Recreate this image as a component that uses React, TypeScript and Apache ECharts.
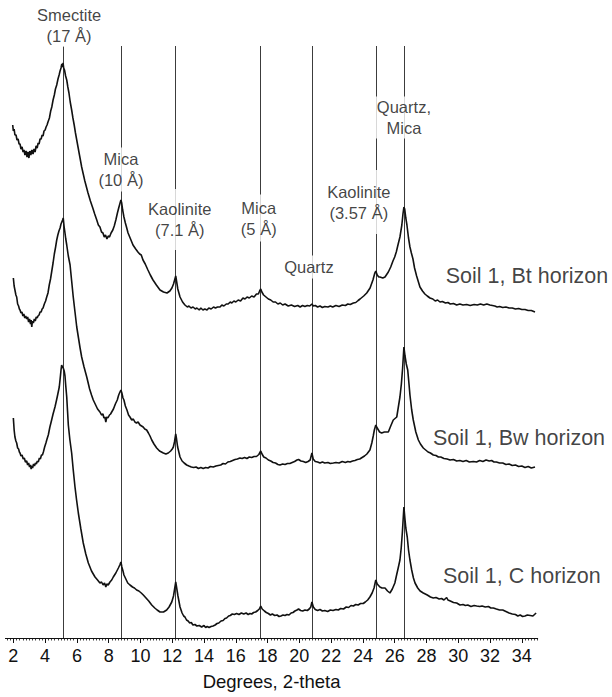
import React, { useEffect, useRef } from "react";
import * as echarts from "echarts";

// 2-theta tick labels on the x axis
const majorTicks = [2, 4, 6, 8, 10, 12, 14, 16, 18, 20, 22, 24, 26, 28, 30, 32, 34];

// Diagnostic reflections (degrees 2-theta) and their names
const peakPositions = [5.13, 8.77, 12.22, 17.57, 20.79, 24.81, 26.58];
const peakLabels = [
  "Smectite\n(17 Å)",
  "Mica\n(10 Å)",
  "Kaolinite\n(7.1 Å)",
  "Mica\n(5 Å)",
  "Quartz",
  "Kaolinite\n(3.57 Å)",
  "Quartz,\nMica",
];

const horizonNames = ["Soil 1, Bt horizon", "Soil 1, Bw horizon", "Soil 1, C horizon"];

// Diffractogram intensities (arbitrary units) as [2-theta, intensity]
const btTrace: [number, number][] = [
  [1.96, 213], [2.0, 207], [2.05, 209], [2.1, 203], [2.17, 203], [2.23, 198], [2.3, 199], [2.36, 194],
  [2.42, 194], [2.48, 189], [2.55, 191], [2.61, 186], [2.67, 188], [2.73, 183], [2.8, 187], [2.86, 181],
  [2.92, 186], [2.98, 180], [3.04, 187], [3.1, 183], [3.17, 188], [3.24, 184], [3.3, 189], [3.37, 186],
  [3.43, 192], [3.5, 190], [3.56, 195], [3.62, 194], [3.68, 199], [3.75, 199], [3.81, 203], [3.87, 202],
  [3.93, 207], [4.0, 208], [4.06, 211], [4.12, 213], [4.18, 216], [4.27, 220], [4.35, 227], [4.42, 231],
  [4.5, 238], [4.58, 243], [4.65, 249], [4.73, 253], [4.81, 259], [4.88, 263], [4.94, 267], [5.0, 270],
  [5.05, 274], [5.09, 271], [5.13, 275], [5.17, 270], [5.22, 268], [5.29, 262], [5.36, 258], [5.43, 251],
  [5.5, 245], [5.58, 236], [5.67, 228], [5.75, 220], [5.83, 213], [5.91, 205], [5.99, 198], [6.07, 191],
  [6.15, 184], [6.22, 178], [6.3, 171], [6.4, 164], [6.5, 157], [6.6, 151], [6.7, 145], [6.85, 137],
  [7.0, 130], [7.12, 124], [7.25, 118], [7.35, 113], [7.45, 111], [7.55, 106], [7.64, 105], [7.72, 101],
  [7.8, 103], [7.89, 99], [7.97, 102], [8.05, 101], [8.15, 105], [8.26, 108], [8.35, 112], [8.45, 118],
  [8.55, 125], [8.63, 130], [8.7, 134], [8.77, 138], [8.82, 135], [8.88, 128], [8.96, 121], [9.05, 115],
  [9.12, 111], [9.22, 105], [9.35, 100], [9.53, 93], [9.7, 89], [9.84, 86], [9.95, 84], [10.05, 83],
  [10.16, 78], [10.3, 74], [10.47, 68], [10.62, 63], [10.79, 58], [11.0, 53], [11.23, 48], [11.45, 46],
  [11.67, 45], [11.85, 47], [11.98, 50], [12.08, 54], [12.15, 58], [12.22, 62], [12.27, 57], [12.35, 49],
  [12.49, 41], [12.65, 36], [12.8, 33], [12.95, 31], [13.05, 32], [13.18, 30], [13.31, 31], [13.45, 29],
  [13.55, 30], [13.7, 28], [13.8, 30], [13.93, 28], [14.05, 29], [14.19, 28], [14.3, 30], [14.45, 29],
  [14.6, 31], [14.72, 30], [14.85, 31], [15.01, 31], [15.12, 33], [15.25, 32], [15.4, 34], [15.52, 34],
  [15.65, 36], [15.75, 35], [15.88, 37], [16.0, 36], [16.15, 38], [16.3, 37], [16.45, 40], [16.58, 39],
  [16.71, 41], [16.85, 40], [17.0, 42], [17.15, 41], [17.3, 44], [17.42, 44], [17.5, 47], [17.57, 49],
  [17.64, 46], [17.75, 43], [17.9, 41], [18.05, 39], [18.2, 38], [18.35, 36], [18.5, 36], [18.65, 34],
  [18.8, 35], [18.95, 33], [19.1, 34], [19.3, 32], [19.5, 33], [19.7, 31.5], [19.9, 32.5], [20.05, 31],
  [20.2, 32.5], [20.35, 31.5], [20.5, 32.5], [20.65, 32], [20.72, 33], [20.79, 34], [20.88, 32], [21.0, 32.5],
  [21.15, 31], [21.3, 32], [21.45, 30.5], [21.6, 31.5], [21.8, 31], [21.95, 32], [22.1, 31], [22.3, 32.5],
  [22.5, 31.5], [22.7, 33], [22.9, 32.5], [23.05, 34], [23.2, 33.5], [23.4, 35], [23.55, 35.5], [23.7, 37.5],
  [23.82, 39], [24.05, 42], [24.24, 45], [24.45, 50], [24.63, 58], [24.75, 65], [24.81, 67], [24.9, 63],
  [25.0, 61], [25.07, 61], [25.25, 60], [25.39, 61], [25.6, 66], [25.75, 71], [25.89, 77], [26.0, 81],
  [26.1, 86], [26.22, 94], [26.33, 101], [26.45, 113], [26.52, 124], [26.58, 131], [26.63, 129], [26.7, 120],
  [26.77, 113], [26.87, 100], [26.96, 91], [27.05, 85], [27.15, 79], [27.25, 70], [27.38, 62], [27.59, 51],
  [27.75, 47], [27.9, 44], [28.05, 42], [28.22, 40], [28.4, 39], [28.55, 37], [28.7, 38], [28.85, 36],
  [29.0, 36.5], [29.2, 35], [29.35, 35.5], [29.5, 34], [29.7, 34.5], [29.9, 33], [30.1, 34], [30.3, 33],
  [30.53, 33.5], [30.75, 32.5], [31.0, 33.5], [31.2, 33], [31.4, 34], [31.6, 33], [31.8, 34], [31.99, 33],
  [32.15, 32.5], [32.3, 32], [32.45, 31], [32.6, 31.5], [32.8, 30.5], [33.0, 31], [33.2, 30], [33.4, 30],
  [33.6, 29], [33.8, 29.5], [34.0, 28.5], [34.2, 28.5], [34.4, 27.5], [34.6, 27.5], [34.83, 26],
];

const bwTrace: [number, number][] = [
  [2.0, 210], [2.05, 202], [2.1, 198], [2.16, 193], [2.21, 191], [2.27, 184], [2.33, 182], [2.38, 179],
  [2.42, 178], [2.48, 175], [2.54, 176], [2.6, 172], [2.66, 174], [2.72, 170], [2.78, 172], [2.84, 169],
  [2.9, 171], [2.96, 166], [3.02, 169], [3.08, 164], [3.12, 168], [3.16, 161], [3.2, 167], [3.26, 165],
  [3.32, 169], [3.38, 167], [3.44, 171], [3.5, 170], [3.55, 172], [3.62, 173], [3.68, 176], [3.75, 176],
  [3.81, 179], [3.87, 180], [3.95, 184], [4.03, 187], [4.1, 191], [4.18, 195], [4.26, 203], [4.34, 209],
  [4.42, 217], [4.5, 225], [4.58, 234], [4.66, 241], [4.73, 248], [4.8, 253], [4.87, 257], [4.94, 260],
  [5.0, 264], [5.05, 266], [5.1, 268], [5.14, 270], [5.19, 262], [5.25, 255], [5.3, 249], [5.36, 243],
  [5.46, 232], [5.57, 223], [5.67, 207], [5.77, 191], [5.88, 176], [5.99, 161], [6.1, 150], [6.2, 140],
  [6.3, 131], [6.45, 121], [6.62, 111], [6.8, 99], [6.92, 93], [7.03, 88], [7.15, 84], [7.3, 79],
  [7.45, 76], [7.55, 73], [7.64, 74], [7.7, 70], [7.76, 71], [7.82, 66], [7.88, 71], [7.95, 70],
  [8.05, 73], [8.12, 74], [8.19, 76], [8.3, 79], [8.42, 84], [8.54, 88], [8.63, 93], [8.71, 96],
  [8.77, 98], [8.83, 95], [8.9, 90], [8.96, 88], [9.05, 82], [9.15, 78], [9.25, 73], [9.34, 71],
  [9.45, 68], [9.55, 69], [9.65, 66], [9.75, 65], [9.85, 66], [9.97, 63], [10.07, 62], [10.17, 61],
  [10.27, 59], [10.39, 58], [10.5, 55], [10.6, 52], [10.71, 48], [10.85, 44], [11.02, 40], [11.2, 37],
  [11.44, 35], [11.6, 34], [11.75, 35], [11.9, 37], [12.0, 39], [12.07, 41], [12.14, 46], [12.22, 54],
  [12.27, 49], [12.34, 41], [12.49, 31], [12.62, 27], [12.75, 25], [12.91, 23], [13.05, 22], [13.2, 21],
  [13.35, 20.5], [13.5, 21], [13.65, 19.5], [13.8, 20.5], [13.95, 19.5], [14.1, 20.5], [14.25, 20], [14.4, 21.5],
  [14.58, 21], [14.75, 22], [14.9, 22.5], [15.05, 23], [15.2, 24.5], [15.35, 24], [15.5, 26], [15.65, 26.5],
  [15.8, 27.5], [15.95, 28.5], [16.1, 29], [16.26, 30], [16.4, 29.5], [16.55, 30.5], [16.7, 29.5], [16.85, 31],
  [17.0, 30.5], [17.15, 31.5], [17.3, 31.5], [17.45, 33.5], [17.57, 37], [17.65, 34], [17.76, 31], [17.9, 30],
  [18.05, 28], [18.2, 27], [18.35, 25.5], [18.5, 25], [18.65, 23.5], [18.78, 23], [18.95, 24], [19.1, 23.5],
  [19.25, 24.5], [19.4, 24.5], [19.55, 25.5], [19.7, 26.5], [19.85, 28], [19.95, 28.5], [20.1, 27], [20.25, 26.5],
  [20.4, 25.5], [20.55, 26.5], [20.68, 28], [20.79, 35], [20.87, 29], [21.0, 26.5], [21.15, 26], [21.3, 25],
  [21.45, 26], [21.6, 25], [21.8, 25.5], [21.95, 24.5], [22.14, 25], [22.3, 25.5], [22.5, 25], [22.7, 26.5],
  [22.9, 25.5], [23.05, 26.5], [23.19, 26], [23.35, 27], [23.5, 27.5], [23.65, 28.5], [23.8, 29], [23.95, 30.5],
  [24.1, 32], [24.25, 34], [24.44, 38], [24.56, 45], [24.65, 52], [24.72, 58], [24.81, 63], [24.9, 60],
  [25.05, 56], [25.18, 55], [25.35, 56], [25.6, 56], [25.75, 62], [25.91, 68], [26.13, 71], [26.22, 80],
  [26.33, 91], [26.42, 104], [26.5, 120], [26.58, 141], [26.65, 132], [26.73, 124], [26.82, 118], [26.9, 104],
  [26.96, 93], [27.07, 78], [27.17, 68], [27.33, 56], [27.49, 48], [27.62, 44], [27.8, 40], [27.95, 38],
  [28.1, 36], [28.25, 35], [28.43, 33], [28.6, 32.5], [28.75, 31], [28.9, 31], [29.1, 29.5], [29.3, 29],
  [29.48, 28], [29.7, 28.5], [29.9, 27], [30.1, 27.5], [30.3, 26.5], [30.5, 27.5], [30.7, 26], [30.95, 26.5],
  [31.15, 26], [31.35, 27.5], [31.55, 26.5], [31.75, 28], [31.95, 27], [32.1, 27.5], [32.25, 26], [32.4, 26],
  [32.6, 25], [32.8, 25], [33.0, 23.5], [33.2, 24], [33.4, 22.5], [33.6, 23], [33.8, 21.5], [34.0, 22],
  [34.2, 20.5], [34.4, 21.5], [34.6, 20], [34.83, 21],
];

const cTrace: [number, number][] = [
  [2.0, 220], [2.05, 208], [2.1, 201], [2.16, 197], [2.21, 195], [2.27, 190], [2.33, 189], [2.38, 186],
  [2.42, 185], [2.48, 182], [2.55, 183], [2.62, 179], [2.69, 180], [2.76, 176], [2.84, 177], [2.9, 173],
  [2.96, 175], [3.02, 171], [3.08, 173], [3.12, 169], [3.16, 172], [3.21, 170], [3.27, 174], [3.33, 172],
  [3.39, 175], [3.45, 174], [3.51, 177], [3.57, 176], [3.64, 180], [3.7, 179], [3.77, 183], [3.83, 183],
  [3.89, 186], [3.97, 191], [4.05, 195], [4.12, 199], [4.2, 203], [4.3, 211], [4.41, 218], [4.5, 224],
  [4.62, 231], [4.72, 238], [4.8, 244], [4.89, 251], [4.95, 260], [5.0, 268], [5.04, 273], [5.09, 271],
  [5.14, 270], [5.2, 267], [5.25, 262], [5.3, 252], [5.36, 241], [5.41, 227], [5.46, 213], [5.56, 198],
  [5.67, 185], [5.77, 168], [5.88, 151], [5.98, 138], [6.09, 125], [6.25, 109], [6.4, 95], [6.56, 84],
  [6.72, 75], [6.92, 67], [7.14, 61], [7.3, 58], [7.45, 55], [7.55, 56], [7.65, 53], [7.74, 55],
  [7.82, 51], [7.88, 54], [7.97, 53], [8.08, 56], [8.19, 58], [8.29, 61], [8.45, 65], [8.61, 70],
  [8.7, 73], [8.77, 76], [8.83, 71], [8.9, 67], [8.96, 63], [9.08, 59], [9.2, 55], [9.34, 53],
  [9.5, 51], [9.62, 50], [9.76, 48], [9.9, 47], [10.05, 45], [10.18, 43], [10.35, 40], [10.52, 37],
  [10.71, 33], [10.9, 30], [11.05, 28], [11.23, 26], [11.45, 26], [11.65, 28], [11.8, 31], [11.97, 36],
  [12.08, 42], [12.15, 49], [12.22, 56], [12.28, 50], [12.36, 42], [12.49, 31], [12.62, 25], [12.72, 22],
  [12.8, 21], [12.9, 18], [13.0, 17], [13.1, 15], [13.2, 15.5], [13.3, 13], [13.43, 13.5], [13.55, 12],
  [13.7, 12.5], [13.85, 11], [14.0, 12.5], [14.1, 10.5], [14.2, 11.5], [14.32, 10.5], [14.44, 11.5], [14.57, 12],
  [14.7, 13], [14.82, 14.5], [14.93, 15], [15.07, 17], [15.2, 17.5], [15.32, 19.5], [15.42, 20], [15.55, 22],
  [15.65, 22.5], [15.78, 24], [15.91, 23.5], [16.05, 24.5], [16.2, 23.5], [16.35, 25], [16.5, 24], [16.65, 25],
  [16.78, 23.5], [16.89, 24.5], [17.0, 24], [17.12, 25.5], [17.25, 26], [17.38, 27.5], [17.48, 29], [17.57, 32],
  [17.66, 29], [17.8, 27], [17.92, 25.5], [18.05, 24.5], [18.18, 23], [18.3, 24], [18.45, 22.5], [18.6, 23],
  [18.72, 21.5], [18.84, 22], [18.97, 23], [19.1, 22.5], [19.22, 23.5], [19.35, 23], [19.48, 25], [19.6, 25.5],
  [19.72, 27], [19.85, 28], [19.95, 29], [20.08, 27.5], [20.21, 27], [20.35, 28], [20.5, 27.5], [20.62, 29],
  [20.72, 31], [20.79, 36], [20.88, 31], [21.0, 28.5], [21.15, 27.5], [21.3, 28.5], [21.45, 27], [21.6, 27.5],
  [21.78, 26.5], [21.95, 28], [22.12, 27.5], [22.3, 28.5], [22.45, 28], [22.6, 29.5], [22.78, 29], [22.95, 31],
  [23.1, 30.5], [23.25, 32.5], [23.4, 32], [23.55, 33.5], [23.7, 33], [23.85, 34.5], [24.02, 34.5], [24.15, 36],
  [24.3, 38], [24.44, 41], [24.58, 45], [24.7, 50], [24.81, 58], [24.9, 54], [25.07, 51], [25.2, 50],
  [25.39, 50], [25.55, 47], [25.7, 45], [25.85, 49], [26.01, 55], [26.12, 63], [26.22, 70], [26.33, 78],
  [26.41, 90], [26.48, 105], [26.53, 118], [26.58, 131], [26.64, 120], [26.7, 110], [26.79, 101], [26.87, 88],
  [26.96, 78], [27.07, 68], [27.18, 60], [27.28, 55], [27.45, 50], [27.6, 47], [27.8, 45], [28.05, 43],
  [28.25, 41], [28.43, 40], [28.6, 40.5], [28.8, 39], [28.95, 39.5], [29.1, 38], [29.2, 39.5], [29.27, 40.5],
  [29.35, 38], [29.5, 37], [29.7, 35.5], [29.9, 35], [30.11, 33], [30.3, 33.5], [30.45, 32.5], [30.6, 33],
  [30.8, 31.5], [31.0, 32.5], [31.16, 32], [31.35, 31.5], [31.5, 32], [31.7, 31], [31.9, 31.5], [32.05, 30],
  [32.21, 30], [32.4, 29], [32.6, 28], [32.8, 28], [33.0, 26.5], [33.2, 25], [33.4, 24], [33.6, 23.5],
  [33.75, 22], [33.9, 23], [34.05, 21.5], [34.2, 22], [34.35, 23], [34.53, 22.5], [34.7, 22], [34.9, 25],
];

const FONT = "'Liberation Sans', Arial, Helvetica, sans-serif";
const INK = "#111";

export default function App() {
  const ref = useRef<HTMLDivElement>(null);

  useEffect(() => {
    if (!ref.current) return;
    const chart = echarts.init(ref.current, null, { renderer: "svg" });

    // Vertical stacking of the three patterns
    const traces = [btTrace, bwTrace, cTrace];
    const offsets = [300, 150, 0];

    // Minor ticks every 0.2 degree between the labelled ticks
    const minorTicks: number[] = [];
    for (let i = 8; i <= 175; i++) {
      const v = Math.round(i * 20) / 100;
      if (Math.abs(v - Math.round(v)) < 1e-6 && Math.round(v) % 2 === 0) continue;
      minorTicks.push(v);
    }

    // Placement of the reflection names: y is the text centre, dx a pixel shift,
    // the white padding opens a gap in the reference lines
    const peakLabelLayout = [
      { y: 612.2, dx: 6, pad: [0, 2, 0, 2] },
      { y: 468.5, dx: 0, pad: [0, 3, 2, 3] },
      { y: 418.5, dx: 4, pad: [0, 3, 19, 3] },
      { y: 420, dx: -2, pad: [2, 3, 3, 3] },
      { y: 371, dx: -3, pad: [0, 3, 2, 3] },
      { y: 436, dx: -17, pad: [0, 3, 22, 3] },
      { y: 520.5, dx: 0, pad: [0, 3, 0, 3] },
    ];
    const horizonLabelLayout = [
      { x: 29.21, y: 362 },
      { x: 28.41, y: 200.5 },
      { x: 29.04, y: 62 },
    ];

    const traceSeries = traces.map((t, i) => ({
      type: "line",
      name: horizonNames[i],
      data: t.map(([x, y]) => [x, y + offsets[i]]),
      showSymbol: false,
      symbol: "none",
      lineStyle: { color: "#111", width: 1.6 },
      z: 4,
      silent: true,
      ...(i === 2
        ? {
            markLine: {
              silent: true,
              symbol: "none",
              label: { show: false },
              lineStyle: { color: "#3c3c3c", width: 1, type: "solid" },
              data: peakPositions.map((p) => ({ xAxis: p })),
              z: 1,
            },
          }
        : {}),
    }));

    const option: any = {
      animation: false,
      backgroundColor: "#fff",
      grid: { left: 5.4, right: 74.3, top: 46, bottom: 59, outerBoundsMode: "none", containLabel: false },
      xAxis: [
        {
          type: "value",
          min: 1.5,
          max: 35,
          position: "bottom",
          name: "Degrees, 2-theta",
          nameLocation: "middle",
          nameGap: 34,
          nameTextStyle: { fontFamily: FONT, fontSize: 18.5, color: INK },
          axisLine: { show: true, onZero: false, lineStyle: { color: INK, width: 1 } },
          axisTick: { show: true, customValues: majorTicks, length: 5, lineStyle: { color: INK, width: 1 } },
          axisLabel: { customValues: majorTicks, fontFamily: FONT, fontSize: 18, color: INK, margin: 9 },
          splitLine: { show: false },
        },
        {
          type: "value",
          min: 1.5,
          max: 35,
          position: "bottom",
          axisLine: { show: false, onZero: false },
          axisTick: { show: true, customValues: minorTicks, length: 2.5, lineStyle: { color: INK, width: 0.8 } },
          axisLabel: { show: false },
          splitLine: { show: false },
        },
      ],
      yAxis: { type: "value", min: 0, max: 592, show: false },
      series: [
        ...traceSeries,
        {
          type: "scatter",
          symbolSize: 0,
          silent: true,
          clip: false,
          z: 10,
          data: peakPositions.map((p, i) => ({
            value: [p, peakLabelLayout[i].y],
            label: {
              show: true,
              position: "inside",
              formatter: peakLabels[i],
              offset: [peakLabelLayout[i].dx, 0],
              fontFamily: FONT,
              fontSize: 16.5,
              lineHeight: 21,
              color: INK,
              backgroundColor: "#fff",
              padding: peakLabelLayout[i].pad,
              align: "center",
            },
          })),
        },
        {
          type: "scatter",
          symbolSize: 0,
          silent: true,
          clip: false,
          z: 10,
          data: horizonNames.map((n, i) => ({
            value: [horizonLabelLayout[i].x, horizonLabelLayout[i].y],
            label: {
              show: true,
              position: "right",
              distance: 0,
              formatter: n,
              fontFamily: FONT,
              fontSize: 21.5,
              color: INK,
            },
          })),
        },
      ],
    };

    chart.setOption(option);
    return () => chart.dispose();
  }, []);

  return (
    <div
      ref={ref}
      style={{ position: "absolute", left: 0, top: 0, width: 612, height: 697 }}
    />
  );
}
